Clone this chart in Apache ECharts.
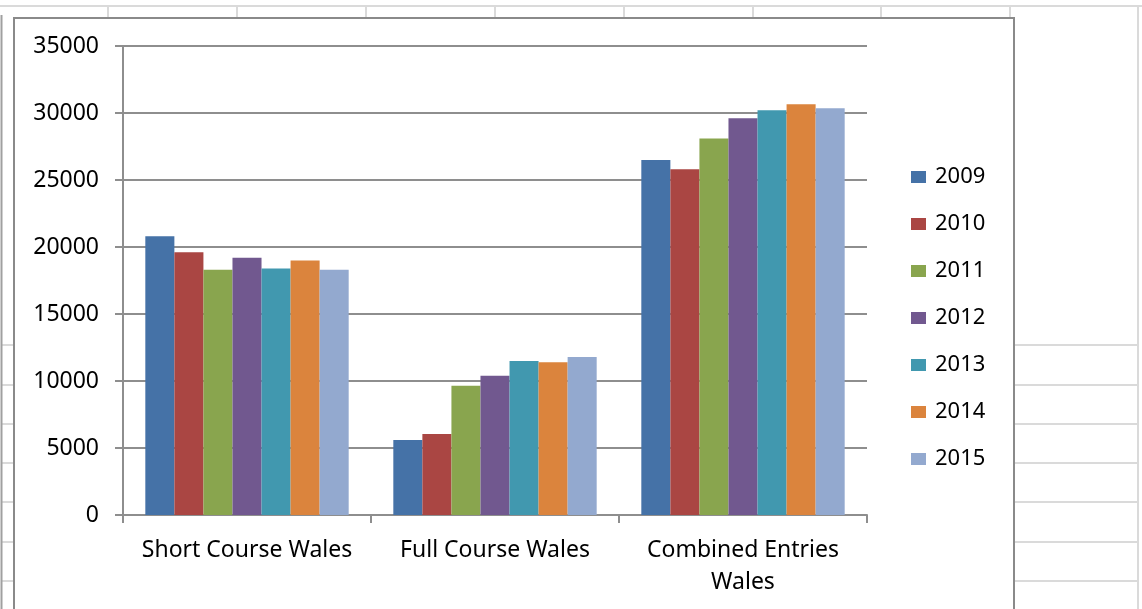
<!DOCTYPE html>
<html>
<head>
<meta charset="utf-8">
<script src="https://cdn.jsdelivr.net/npm/echarts@6/dist/echarts.min.js"></script>
<style>
  html, body { margin: 0; padding: 0; background: #fff; }
  #chart { width: 1142px; height: 609px; }
</style>
</head>
<body>
<div id="chart"></div>
<script>
// categories and yearly series
const categories = ['Short Course Wales', 'Full Course Wales', 'Combined Entries\nWales'];
const years = ['2009', '2010', '2011', '2012', '2013', '2014', '2015'];
const values2009 = [20800, 5600, 26500];
const values2010 = [19600, 6050, 25800];
const values2011 = [18300, 9650, 28100];
const values2012 = [19200, 10400, 29600];
const values2013 = [18400, 11500, 30200];
const values2014 = [19000, 11400, 30650];
const values2015 = [18300, 11800, 30350];
const yTicks = [0, 5000, 10000, 15000, 20000, 25000, 30000, 35000];

const colors = ['#4572A7', '#AA4643', '#89A54E', '#71588F', '#4198AF', '#DB843D', '#93A9CF'];
const allValues = [values2009, values2010, values2011, values2012, values2013, values2014, values2015];

const FONT = '"Noto Sans", sans-serif';
const AXIS_GREY = '#8e8e8e';
const CELL_GREY = '#dadada';

// spreadsheet cells behind the chart object (decoration only)
function sheetBackground() {
  const els = [];
  const line = (x1, y1, x2, y2, color, w) => els.push({
    type: 'line', silent: true, z: -10,
    shape: { x1, y1, x2, y2 },
    style: { stroke: color, lineWidth: w }
  });
  line(0, 6, 1142, 6, CELL_GREY, 2);
  [108, 237, 366, 495, 624, 753, 881, 1010].forEach((x) => line(x, 6, x, 18, CELL_GREY, 2));
  line(1138, 6, 1138, 609, CELL_GREY, 2);
  [345, 385, 424, 463, 502, 542, 581].forEach((y) => {
    line(2, y, 14, y, CELL_GREY, 2);
    line(1014, y, 1138, y, CELL_GREY, 2);
  });
  line(1.5, 15, 1.5, 609, '#a0a0a0', 2);
  // chart object frame
  els.push({
    type: 'rect', silent: true, z: -5,
    shape: { x: 14, y: 18, width: 1000, height: 600 },
    style: { fill: '#fff', stroke: '#8a8a8a', lineWidth: 2 }
  });
  return els;
}

const myChart = echarts.init(document.getElementById('chart'));

const option = {
  animation: false,
  color: colors,
  graphic: sheetBackground(),
  grid: { left: 123, right: 275, top: 46, bottom: 94 },
  legend: {
    orient: 'vertical',
    left: 911,
    top: 166,
    padding: 0,
    itemWidth: 15,
    itemHeight: 12,
    itemGap: 25,
    icon: 'rect',
    data: years,
    textStyle: { fontFamily: FONT, fontSize: 22, color: '#000', lineHeight: 22, padding: [0, 0, 0, 4] }
  },
  xAxis: {
    type: 'category',
    data: categories,
    axisLine: { lineStyle: { color: AXIS_GREY, width: 2 } },
    axisTick: { show: true, length: 8, lineStyle: { color: AXIS_GREY, width: 2 } },
    axisLabel: { fontFamily: FONT, fontSize: 23, color: '#000', margin: 19, lineHeight: 32, interval: 0 }
  },
  yAxis: {
    type: 'value',
    min: 0,
    max: 35000,
    interval: 5000,
    axisLine: { show: true, lineStyle: { color: AXIS_GREY, width: 2 } },
    axisTick: { show: true, length: 8, lineStyle: { color: AXIS_GREY, width: 2 } },
    splitLine: { lineStyle: { color: AXIS_GREY, width: 2 } },
    axisLabel: {
      fontFamily: FONT, fontSize: 23, color: '#000', margin: 24,
      formatter: (v) => (yTicks.includes(v) ? String(v) : '')
    }
  },
  series: years.map((y, i) => ({
    name: y,
    type: 'bar',
    data: allValues[i],
    barGap: '0%',
    barCategoryGap: '18%',
    itemStyle: { color: colors[i] }
  }))
};

myChart.setOption(option);
</script>
</body>
</html>
